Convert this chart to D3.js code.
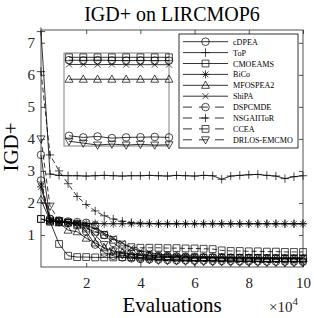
<!DOCTYPE html>
<html>
<head>
<meta charset="utf-8">
<script src="https://cdn.jsdelivr.net/npm/d3@7"></script>
<style>
  body { margin: 0; background: #fff; }
  text { font-family: "Liberation Serif", "Times New Roman", serif; }
</style>
</head>
<body>
<div class="chart"></div>
<script>
// evaluations (x 10^4)
const evals = [0.333,0.667,1,1.333,1.667,2,2.333,2.667,3,3.333,3.667,4,4.333,4.667,5,5.333,5.667,6,6.333,6.667,7,7.333,7.667,8,8.333,8.667,9,9.333,9.667,10];

const names = ['cDPEA','ToP','CMOEAMS','BiCo','MFOSPEA2','ShiPA','DSPCMDE','NSGAIIToR','CCEA','DRLOS-EMCMO'];
const markers = ['o','+','s','*','^','x','o','+','s','v'];
const dashed = [false,false,false,false,false,false,true,true,true,true];

const cDPEA = [3.5,1.5,1.42,1.38,1.33,1.1,0.7,0.45,0.35,0.3,0.27,0.25,0.24,0.23,0.22,0.21,0.21,0.2,0.2,0.19,0.19,0.19,0.18,0.18,0.18,0.17,0.17,0.17,0.17,0.165];
const ToP = [7.35,2.9,2.86,2.85,2.85,2.84,2.85,2.86,2.85,2.84,2.85,2.85,2.86,2.85,2.84,2.86,2.85,2.84,2.86,2.85,2.74,2.84,2.86,2.88,2.89,2.86,2.84,2.76,2.82,2.85];
const CMOEAMS = [1.5,1.42,0.72,0.35,0.31,0.31,0.3,0.3,0.3,0.31,0.31,0.3,0.3,0.3,0.3,0.29,0.29,0.29,0.29,0.29,0.28,0.28,0.28,0.28,0.28,0.27,0.27,0.27,0.27,0.27];
const BiCo = [2.5,1.45,1.4,1.38,1.37,1.36,1.36,1.35,1.35,1.35,1.35,1.35,1.35,1.35,1.35,1.35,1.35,1.35,1.35,1.35,1.35,1.35,1.35,1.35,1.35,1.35,1.35,1.35,1.35,1.35];
const MFOSPEA2 = [2.1,1.45,1.38,1.15,1.1,0.9,0.75,0.6,0.5,0.45,0.4,0.38,0.36,0.34,0.33,0.32,0.31,0.3,0.3,0.29,0.29,0.28,0.28,0.28,0.27,0.27,0.27,0.26,0.26,0.26];
const ShiPA = [2.6,1.45,1.4,1.38,1.36,1.3,1.2,1.05,0.9,0.75,0.6,0.5,0.45,0.4,0.38,0.36,0.35,0.34,0.33,0.32,0.32,0.31,0.31,0.3,0.3,0.3,0.29,0.29,0.29,0.29];
const DSPCMDE = [2.7,1.5,1.45,1.42,1.4,1.38,1.3,1.0,0.75,0.55,0.45,0.4,0.37,0.35,0.34,0.33,0.32,0.31,0.3,0.3,0.29,0.29,0.28,0.28,0.28,0.27,0.27,0.27,0.26,0.26];
const NSGAIIToR = [6.1,3.5,3.0,2.6,2.2,1.95,1.75,1.6,1.5,1.43,1.39,1.37,1.36,1.35,1.35,1.35,1.35,1.35,1.35,1.35,1.35,1.35,1.35,1.35,1.35,1.35,1.35,1.35,1.35,1.35];
const CCEA = [1.5,1.42,1.4,1.38,1.3,1.2,1.1,1.0,0.85,0.7,0.62,0.6,0.6,0.6,0.59,0.59,0.58,0.58,0.57,0.56,0.52,0.5,0.5,0.49,0.49,0.48,0.48,0.47,0.47,0.47];
const DRLOS = [4.0,1.9,1.45,1.4,1.35,1.25,1.0,0.7,0.5,0.38,0.3,0.26,0.23,0.21,0.2,0.19,0.18,0.17,0.17,0.16,0.16,0.15,0.15,0.15,0.14,0.14,0.14,0.13,0.13,0.13];
const allSeries = [cDPEA,ToP,CMOEAMS,BiCo,MFOSPEA2,ShiPA,DSPCMDE,NSGAIIToR,CCEA,DRLOS];

// inset (zoom box) values over the last 8 evaluations
const insetEvals = [7.667,8,8.333,8.667,9,9.333,9.667,10];
const insetNames = ['CMOEAMS','DSPCMDE','ShiPA','MFOSPEA2','cDPEA','DRLOS-EMCMO'];
const insetVals = [
  [0.482,0.482,0.482,0.482,0.482,0.482,0.482,0.482],
  [0.47,0.469,0.47,0.469,0.468,0.469,0.468,0.468],
  [0.452,0.452,0.451,0.452,0.451,0.451,0.451,0.451],
  [0.39,0.39,0.39,0.39,0.39,0.39,0.39,0.39],
  [0.153,0.146,0.15,0.143,0.146,0.147,0.148,0.146],
  [0.13,0.122,0.114,0.118,0.114,0.117,0.114,0.115]
];

const xTicks = [2,4,6,8,10];
const yTicks = [1,2,3,4,5,6,7];

const width = 314, height = 318;
const svg = d3.select('.chart').append('svg')
  .attr('width', width).attr('height', height);

const x = d3.scaleLinear().domain([1/3, 10]).range([41, 303]);
const y = d3.scaleLinear().domain([0, 7.4]).range([267, 30]);

function markerPath(m) {
  if (m == 'o') return 'M3.8,0A3.8,3.8 0 1,1 -3.8,0A3.8,3.8 0 1,1 3.8,0Z';
  if (m == 's') return 'M-3.4,-3.4H3.4V3.4H-3.4Z';
  if (m == '^') return 'M0,-4.2L4,3L-4,3Z';
  if (m == 'v') return 'M0,4.2L4,-3L-4,-3Z';
  if (m == '+') return 'M-4.2,0H4.2M0,-4.2V4.2';
  if (m == 'x') return 'M-3,-3L3,3M-3,3L3,-3';
  if (m == '*') return 'M-4,0H4M0,-4V4M-2.9,-2.9L2.9,2.9M-2.9,2.9L2.9,-2.9';
}

const axisColor = '#262626';

// lines + markers
const line = d3.line().x((d, i) => x(evals[i])).y(d => y(d));
allSeries.forEach((s, j) => {
  svg.append('path')
    .attr('d', line(s))
    .attr('fill', 'none')
    .attr('stroke', '#000')
    .attr('stroke-width', 0.8)
    .attr('stroke-dasharray', dashed[j] ? '5,3' : null);
  svg.selectAll('.m' + j)
    .data(s)
    .enter()
    .append('path')
    .attr('d', markerPath(markers[j]))
    .attr('transform', (d, i) => 'translate(' + x(evals[i]) + ',' + y(d) + ')')
    .attr('fill', 'none')
    .attr('stroke', '#000')
    .attr('stroke-width', 0.7);
});

// axes box with inward ticks
svg.append('rect')
  .attr('x', 41).attr('y', 30).attr('width', 262).attr('height', 237)
  .attr('fill', 'none').attr('stroke', axisColor).attr('stroke-width', 0.8);

const gx = svg.append('g').attr('transform', 'translate(0,267)')
  .call(d3.axisBottom(x).tickValues(xTicks).tickSize(-4).tickPadding(10).tickFormat(d3.format('d')));
const gxt = svg.append('g').attr('transform', 'translate(0,30)')
  .call(d3.axisTop(x).tickValues(xTicks).tickSize(-4).tickFormat(''));
const gy = svg.append('g').attr('transform', 'translate(41,0)')
  .call(d3.axisLeft(y).tickValues(yTicks).tickSize(-4).tickPadding(6));
const gyr = svg.append('g').attr('transform', 'translate(303,0)')
  .call(d3.axisRight(y).tickValues(yTicks).tickSize(-4).tickFormat(''));
[gx, gxt, gy, gyr].forEach(g => {
  g.select('.domain').remove();
  g.selectAll('line').attr('stroke', axisColor).attr('stroke-width', 0.8);
  g.selectAll('text')
    .attr('font-family', '"Liberation Serif", serif')
    .attr('font-size', 15)
    .attr('fill', axisColor);
});

// inset zoom box
const ix = d3.scaleLinear().domain([7.55, 10]).range([64, 169]);
const iy = d3.scaleLinear().domain([0.11, 0.5]).range([146, 53]);
svg.append('rect')
  .attr('x', 64).attr('y', 53).attr('width', 105).attr('height', 93)
  .attr('fill', '#fff').attr('stroke', '#808080').attr('stroke-width', 1);
const iline = d3.line().x((d, i) => ix(insetEvals[i])).y(d => iy(d));
insetNames.forEach((n, k) => {
  const j = names.indexOf(n);
  svg.append('path')
    .attr('d', iline(insetVals[k]))
    .attr('fill', 'none')
    .attr('stroke', '#000')
    .attr('stroke-width', 0.8);
  svg.selectAll('.im' + k)
    .data(insetVals[k])
    .enter()
    .append('path')
    .attr('d', markerPath(markers[j]))
    .attr('transform', (d, i) => 'translate(' + ix(insetEvals[i]) + ',' + iy(d) + ')')
    .attr('fill', 'none')
    .attr('stroke', '#000')
    .attr('stroke-width', 0.7);
});

// legend
const lg = svg.append('g');
lg.append('rect')
  .attr('x', 179).attr('y', 34).attr('width', 119).attr('height', 114)
  .attr('fill', '#fff').attr('stroke', '#000').attr('stroke-width', 0.8);
names.forEach((n, j) => {
  const ly = 41.7 + j * 10.9;
  lg.append('line')
    .attr('x1', 183).attr('x2', 228).attr('y1', ly).attr('y2', ly)
    .attr('stroke', '#000').attr('stroke-width', 0.8)
    .attr('stroke-dasharray', dashed[j] ? '9,7' : null);
  lg.append('path')
    .attr('d', markerPath(markers[j]))
    .attr('transform', 'translate(205.5,' + ly + ')')
    .attr('fill', 'none').attr('stroke', '#000').attr('stroke-width', 0.7);
  lg.append('text')
    .attr('x', 233).attr('y', ly + 3)
    .attr('font-size', 8.1)
    .text(n);
});

// titles
svg.append('text')
  .attr('x', 172).attr('y', 21)
  .attr('text-anchor', 'middle')
  .attr('font-size', 20)
  .text('IGD+ on LIRCMOP6');
svg.append('text')
  .attr('x', 172).attr('y', 312)
  .attr('text-anchor', 'middle')
  .attr('font-size', 21)
  .text('Evaluations');
svg.append('text')
  .attr('transform', 'translate(18,147) rotate(-90)')
  .attr('text-anchor', 'middle')
  .attr('font-size', 21)
  .text('IGD+');
const mult = svg.append('text')
  .attr('x', 269).attr('y', 312)
  .attr('font-size', 15)
  .attr('fill', axisColor);
mult.append('tspan').text('\u00d710');
mult.append('tspan').attr('dy', -7).attr('font-size', 11).text('4');
</script>
</body>
</html>
